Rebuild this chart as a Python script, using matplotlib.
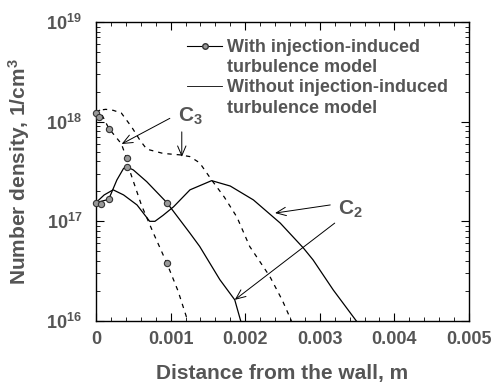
import numpy as np
import matplotlib
matplotlib.use("Agg")
import matplotlib.pyplot as plt
from matplotlib.lines import Line2D

plt.rcParams["font.family"] = ["Liberation Sans", "DejaVu Sans"]
plt.rcParams["font.weight"] = "bold"
plt.rcParams["axes.labelweight"] = "bold"
plt.rcParams["mathtext.fontset"] = "custom"
plt.rcParams["mathtext.rm"] = "Liberation Sans:bold"
plt.rcParams["mathtext.bf"] = "Liberation Sans:bold"
plt.rcParams["mathtext.it"] = "Liberation Sans:bold"

TXT = "#555555"

# C3, with injection-induced turbulence model (dashed)
x_c3_with = [0.0, 0.00005, 0.00017, 0.00034, 0.00041, 0.00046, 0.00061, 0.00077, 0.00095, 0.00110, 0.00123]
y_c3_with = [1.25e18, 1.3e18, 8.6e17, 6.0e17, 4.3e17, 3.1e17, 1.45e17, 7.6e16, 3.8e16, 2.0e16, 1.0e16]
# C3, without model (dashed)
x_c3_wo = [0.0, 0.00004, 0.00013, 0.00023, 0.00034, 0.00048, 0.00059, 0.00068, 0.00090, 0.00113, 0.00126, 0.00139,
           0.00155, 0.00172, 0.00189, 0.00206, 0.00233, 0.00250, 0.00262]
y_c3_wo = [1.17e18, 1.3e18, 1.33e18, 1.3e18, 1.22e18, 8.8e17, 6.5e17, 5.3e17, 4.8e17, 4.64e17, 4.46e17, 3.86e17,
           2.6e17, 1.75e17, 1.1e17, 5.6e16, 2.8e16, 1.6e16, 1.0e16]
# C2, with model (solid)
x_c2_with = [0.0, 0.00017, 0.00028, 0.00037, 0.00042, 0.00050, 0.00068, 0.00095, 0.00126, 0.00139, 0.00166, 0.00186, 0.00194]
y_c2_with = [1.54e17, 1.66e17, 2.6e17, 3.4e17, 3.5e17, 3.28e17, 2.5e17, 1.54e17, 7.6e16, 5.6e16, 2.6e16, 1.63e16, 1.0e16]
# C2, without model (solid)
x_c2_wo = [0.0, 0.00011, 0.00023, 0.00037, 0.00055, 0.00072, 0.00079, 0.00090, 0.00104, 0.00126, 0.00155, 0.00180,
           0.00211, 0.00247, 0.00278, 0.00291, 0.00318, 0.00349]
y_c2_wo = [1.54e17, 1.84e17, 2.07e17, 1.84e17, 1.46e17, 1.0e17, 1.0e17, 1.15e17, 1.4e17, 2.07e17, 2.56e17, 2.26e17,
           1.64e17, 9.6e16, 5.4e16, 4.1e16, 2.05e16, 1.0e16]

# simulation points shown as markers on the "with" curves
x_mk = [0.0, 0.00004, 0.00017, 0.00041, 0.00095, 0.0, 0.00007, 0.00017, 0.00042, 0.00095]
y_mk = [1.22e18, 1.12e18, 8.4e17, 4.3e17, 3.86e16, 1.54e17, 1.5e17, 1.66e17, 3.5e17, 1.54e17]

xticks = [0, 0.001, 0.002, 0.003, 0.004, 0.005]
xtick_labels = ["0", "0.001", "0.002", "0.003", "0.004", "0.005"]
yticks = [1e16, 1e17, 1e18, 1e19]
ytick_labels = ["$10^{16}$", "$10^{17}$", "$10^{18}$", "$10^{19}$"]

fig = plt.figure(figsize=(4.94, 3.88), dpi=100)
ax = fig.add_axes([0.1943, 0.1727, 0.7551, 0.7706])

dash = (0, (3.5, 4))
ax.plot(x_c3_with, y_c3_with, color="k", lw=0.9, linestyle=dash)
ax.plot(x_c3_wo, y_c3_wo, color="k", lw=0.9, linestyle=dash)
ax.plot(x_c2_with, y_c2_with, color="k", lw=0.9)
ax.plot(x_c2_wo, y_c2_wo, color="k", lw=0.9)
ax.plot(x_mk, y_mk, "o", ms=4.5, mfc="#999999", mec="#333333", mew=0.8, clip_on=False, zorder=5)

ax.set_yscale("log")
ax.set_xlim(0, 0.005)
ax.set_ylim(1e16, 1e19)
ax.set_xticks(xticks)
ax.set_xticklabels(xtick_labels)
ax.set_xticks(np.arange(0, 0.0051, 0.0002), minor=True)
ax.set_yticks(yticks)
ax.set_yticklabels(ytick_labels)
ax.tick_params(which="both", direction="in", top=True, right=True, colors="k", labelcolor=TXT)
ax.tick_params(which="major", length=6, width=0.8, labelsize=13)
ax.tick_params(axis="x", which="major", pad=7)
ax.tick_params(axis="y", which="major", pad=10)
ax.tick_params(which="minor", length=3, width=0.6)
for s in ax.spines.values():
    s.set_linewidth(1.0)

ax.set_xlabel("Distance from the wall, m", fontsize=15, color=TXT, labelpad=12)
ax.set_ylabel("Number density, 1/cm$^3$", fontsize=15, color=TXT, labelpad=10)

# annotations
arrow = dict(arrowstyle="->,head_length=0.7,head_width=0.3", lw=0.7, color="k", shrinkA=0, shrinkB=0)
ax.text(0.00110, 9.9e17, "C$_3$", fontsize=15, color=TXT, va="baseline", ha="left")
ax.annotate("", xy=(0.000344, 5.97e17), xytext=(0.00099, 1.08e18), arrowprops=arrow)
ax.annotate("", xy=(0.00115, 4.43e17), xytext=(0.00115, 7.9e17), arrowprops=arrow)
ax.text(0.00324, 1.16e17, "C$_2$", fontsize=15, color=TXT, va="baseline", ha="left")
ax.annotate("", xy=(0.0024, 1.21e17), xytext=(0.00314, 1.46e17), arrowprops=arrow)
ax.annotate("", xy=(0.00186, 1.63e16), xytext=(0.0032, 9.6e16), arrowprops=arrow)

handles = [
    Line2D([], [], color="k", lw=0.8, marker="o", ms=4, mfc="#999999", mec="#333333"),
    Line2D([], [], alpha=0),
    Line2D([], [], color="k", lw=0.6),
    Line2D([], [], alpha=0),
]
labels = ["With injection-induced", "turbulence model", "Without injection-induced", "turbulence model"]
leg = ax.legend(handles, labels, loc="upper left", bbox_to_anchor=(0.244, 0.942), frameon=False,
                fontsize=13, handlelength=1.95, handletextpad=0.28, labelspacing=0.17, borderpad=0,
                borderaxespad=0)
for t in leg.get_texts():
    t.set_color(TXT)

fig.savefig("out.png", dpi=100)
